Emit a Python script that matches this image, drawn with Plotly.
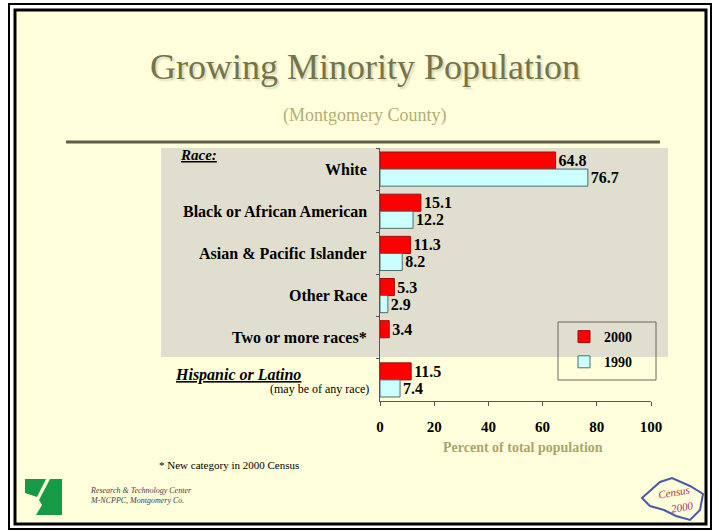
import plotly.graph_objects as go

# ---------------- data ----------------
categories = ["White", "Black or African American", "Asian & Pacific Islander",
              "Other Race", "Two or more races*", "Hispanic or Latino"]
values_2000 = [64.8, 15.1, 11.3, 5.3, 3.4, 11.5]
values_1990 = [76.7, 12.2, 8.2, 2.9, None, 7.4]
series_names = ["2000", "1990"]
x_ticks = [0, 20, 40, 60, 80, 100]
race_labels = categories[:5]

# ---------------- helpers ----------------
W, H = 719, 531
SERIF = "Liberation Serif"


def px(x):
    return x / W


def py(y):
    return 1 - y / H


def fmt(vals):
    return ["" if v is None else f"{v:.1f}" for v in vals]


fig = go.Figure()
fig.add_trace(go.Bar(
    y=categories, x=values_2000, orientation="h", name=series_names[0],
    marker=dict(color="#FF0000", line=dict(color="#9A1010", width=1)),
    text=fmt(values_2000), textposition="outside", constraintext="none",
    textfont=dict(family=SERIF, size=16, color="black", weight="bold"),
    cliponaxis=False, legendgroup="a", hoverinfo="x+y",
))
fig.add_trace(go.Bar(
    y=categories, x=values_1990, orientation="h", name=series_names[1],
    marker=dict(color="#CCFFFF", line=dict(color="#4A6E6E", width=1)),
    text=fmt(values_1990), textposition="outside", constraintext="none",
    textfont=dict(family=SERIF, size=16, color="black", weight="bold"),
    cliponaxis=False, legendgroup="b", hoverinfo="x+y",
))

shapes = [
    # outer frame
    dict(type="rect", xref="paper", yref="paper", x0=px(9), x1=px(711), y0=py(529), y1=py(4),
         line=dict(color="black", width=2), fillcolor="white", layer="below"),
    # inner frame with cream fill
    dict(type="rect", xref="paper", yref="paper", x0=px(15), x1=px(706), y0=py(524), y1=py(10),
         line=dict(color="black", width=3), fillcolor="#FFFFDC", layer="below"),
    # grey band behind race rows
    dict(type="rect", xref="paper", yref="paper", x0=px(161), x1=px(668), y0=py(357), y1=py(148),
         line=dict(width=0), fillcolor="#E0DFCF", layer="below"),
    # dark rule under the title
    dict(type="line", xref="paper", yref="paper", x0=px(66), x1=px(660), y0=py(142), y1=py(142),
         line=dict(color="#5E5E48", width=3), layer="below"),
    # legend box
    dict(type="rect", xref="paper", yref="paper", x0=px(558), x1=px(656), y0=py(380), y1=py(322),
         line=dict(color="#666660", width=1), fillcolor="rgba(0,0,0,0)", layer="above"),
    # green logo
    dict(type="path", xref="paper", yref="paper",
         path=f"M{px(25)},{py(479)} L{px(46)},{py(479)} L{px(37)},{py(497)} L{px(25)},{py(493)} Z",
         fillcolor="#169A45", line=dict(width=0)),
    dict(type="path", xref="paper", yref="paper",
         path=(f"M{px(50)},{py(479)} L{px(62)},{py(479)} L{px(62)},{py(515)} L{px(36)},{py(515)} "
               f"L{px(42)},{py(505)} L{px(39)},{py(500)} Z"),
         fillcolor="#169A45", line=dict(width=0)),
    # census logo outline
    dict(type="path", xref="paper", yref="paper",
         path=(f"M{px(642)},{py(498)} L{px(660)},{py(482)} L{px(672)},{py(478)} L{px(690)},{py(486)} "
               f"L{px(703)},{py(494)} L{px(700)},{py(510)} L{px(690)},{py(520)} L{px(676)},{py(516)} "
               f"L{px(664)},{py(510)} L{px(650)},{py(506)} Z"),
         fillcolor="rgba(0,0,0,0)", line=dict(color="#4A5AA8", width=2)),
]

annotations = [
    dict(text="Growing Minority Population", x=px(365), y=py(67), xref="paper", yref="paper",
         showarrow=False, xanchor="center", yanchor="middle",
         font=dict(family=SERIF, size=36, color="#74744A", shadow="2px 2px 2px #D8D8B8")),
    dict(text="(Montgomery County)", x=px(365), y=py(115), xref="paper", yref="paper",
         showarrow=False, xanchor="center", yanchor="middle",
         font=dict(family=SERIF, size=18, color="#B4AE70")),
    dict(text="<i><u>Race:</u></i>", x=px(178), y=py(155), xref="paper", yref="paper",
         showarrow=False, xanchor="left", yanchor="middle",
         font=dict(family=SERIF, size=15, color="black", weight="bold")),
    dict(text="<i><u>Hispanic or Latino</u></i>", x=px(173), y=py(375), xref="paper", yref="paper",
         showarrow=False, xanchor="left", yanchor="middle",
         font=dict(family=SERIF, size=16, color="black", weight="bold")),
    dict(text="(may be of any race)", x=px(371), y=py(389), xref="paper", yref="paper",
         showarrow=False, xanchor="right", yanchor="middle",
         font=dict(family=SERIF, size=12, color="black")),
    dict(text="Percent of total population", x=px(523), y=py(447), xref="paper", yref="paper",
         showarrow=False, xanchor="center", yanchor="middle",
         font=dict(family=SERIF, size=14, color="#ABA56A", weight="bold")),
    dict(text="* New category in 2000 Census", x=px(157), y=py(465), xref="paper", yref="paper",
         showarrow=False, xanchor="left", yanchor="middle",
         font=dict(family=SERIF, size=11, color="black")),
    dict(text="<i>Research & Technology Center<br>M-NCPPC, Montgomery Co.</i>", x=px(88), y=py(495),
         xref="paper", yref="paper", showarrow=False, xanchor="left", yanchor="middle", align="left",
         font=dict(family=SERIF, size=8, color="#404050")),
    dict(text="<i>Census</i>", x=px(674), y=py(492), xref="paper", yref="paper", showarrow=False,
         xanchor="center", yanchor="middle", textangle=-10,
         font=dict(family=SERIF, size=11, color="#B03050")),
    dict(text="<i>2000</i>", x=px(682), y=py(507), xref="paper", yref="paper", showarrow=False,
         xanchor="center", yanchor="middle", textangle=-10,
         font=dict(family=SERIF, size=11, color="#A03060")),
]

for lab in race_labels:
    annotations.append(dict(text=lab, x=px(369), y=lab, xref="paper", yref="y",
                            showarrow=False, xanchor="right", yanchor="middle",
                            font=dict(family=SERIF, size=16, color="black", weight="bold")))

fig.update_layout(
    width=W, height=H, autosize=False,
    margin=dict(l=0, r=0, t=0, b=0, autoexpand=False),
    paper_bgcolor="white", plot_bgcolor="rgba(0,0,0,0)",
    barmode="group", bargap=0.19, bargroupgap=0,
    showlegend=True,
    legend=dict(x=px(564), y=py(321), xanchor="left", yanchor="top",
                bgcolor="rgba(0,0,0,0)", borderwidth=0, traceorder="grouped",
                tracegroupgap=4, itemwidth=30,
                font=dict(family=SERIF, size=14, color="black", weight="bold")),
    xaxis=dict(domain=[px(380), px(651)], range=[0, 100], tickvals=x_ticks,
               ticks="outside", ticklen=4, tickcolor="#555", showline=True,
               linecolor="#555", linewidth=1, showgrid=False, zeroline=False,
               ticklabelstandoff=8, automargin=False,
               tickfont=dict(family=SERIF, size=15, color="black", weight="bold")),
    yaxis=dict(domain=[py(401), py(148)], categoryorder="array", categoryarray=categories,
               autorange="reversed", showticklabels=False, showline=True,
               linecolor="#555", linewidth=1, showgrid=False, zeroline=False, automargin=False,
               ticks="outside", tickson="boundaries", ticklen=3, tickcolor="#555"),
    shapes=shapes, annotations=annotations,
)

fig.write_html(
    "out.html",
    config={"displayModeBar": False},
    post_script="document.body.style.margin='0px';document.body.style.overflow='hidden';",
)
